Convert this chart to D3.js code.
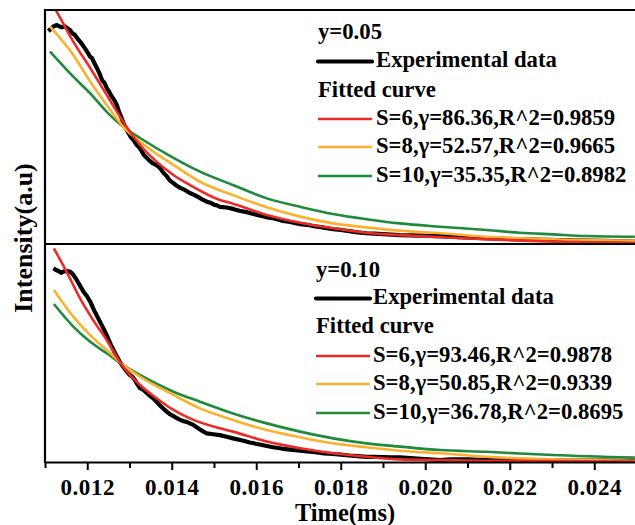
<!DOCTYPE html>
<html><head><meta charset="utf-8">
<script src="https://cdn.jsdelivr.net/npm/d3@7"></script>
<style>
html,body{margin:0;padding:0;background:#fff;}
text{font-family:"Liberation Serif","Times New Roman",serif;font-weight:bold;fill:#000;}
</style></head>
<body><svg id="chart" width="635" height="525"></svg>
<script>
// ---- data (time in ms, normalised intensity per panel) ----
const tickValues = [0.011,0.012,0.013,0.014,0.015,0.016,0.017,0.018,0.019,0.020,0.021,0.022,0.023,0.024,0.025];
const tickLabels = ["","0.012","","0.014","","0.016","","0.018","","0.020","","0.022","","0.024",""];

const panelTitles = ["y=0.05","y=0.10"];
const seriesColors = ["#ec2a26","#fbb12e","#1e8a3a"];
const topFitLabels = ["S=6,\u03b3=86.36,R^2=0.9859","S=8,\u03b3=52.57,R^2=0.9665","S=10,\u03b3=35.35,R^2=0.8982"];
const bottomFitLabels = ["S=6,\u03b3=93.46,R^2=0.9878","S=8,\u03b3=50.85,R^2=0.9339","S=10,\u03b3=36.78,R^2=0.8695"];

const topExp = [[0.01108,0.910],[0.01113,0.918],[0.01120,0.930],[0.01128,0.936],[0.01134,0.930],[0.01140,0.926],[0.01147,0.930],[0.01153,0.922],[0.01159,0.915],[0.01165,0.900],[0.01170,0.895],[0.01177,0.878],[0.01183,0.865],[0.01189,0.850],[0.01195,0.835],[0.01201,0.818],[0.01207,0.800],[0.01211,0.795],[0.01215,0.780],[0.01220,0.762],[0.01225,0.744],[0.01230,0.725],[0.01235,0.700],[0.01241,0.688],[0.01246,0.667],[0.01252,0.650],[0.01258,0.630],[0.01264,0.615],[0.01270,0.594],[0.01275,0.566],[0.01280,0.545],[0.01285,0.520],[0.01289,0.501],[0.01296,0.480],[0.01302,0.460],[0.01309,0.445],[0.01317,0.423],[0.01322,0.415],[0.01328,0.400],[0.01334,0.380],[0.01341,0.368],[0.01348,0.355],[0.01355,0.345],[0.01363,0.338],[0.01372,0.325],[0.01380,0.305],[0.01388,0.290],[0.01395,0.272],[0.01403,0.261],[0.01411,0.250],[0.01420,0.240],[0.01432,0.230],[0.01443,0.218],[0.01453,0.210],[0.01463,0.200],[0.01473,0.190],[0.01483,0.181],[0.01492,0.176],[0.01500,0.168],[0.01507,0.165],[0.01514,0.159],[0.01530,0.156],[0.01545,0.150],[0.01560,0.142],[0.01580,0.135],[0.01600,0.125],[0.01625,0.114],[0.01640,0.110],[0.01660,0.100],[0.01680,0.094],[0.01704,0.085],[0.01720,0.082],[0.01740,0.075],[0.01760,0.070],[0.01782,0.063],[0.01800,0.060],[0.01820,0.055],[0.01840,0.050],[0.01861,0.046],[0.01880,0.044],[0.01900,0.042],[0.01920,0.040],[0.01940,0.038],[0.01990,0.036],[0.02035,0.034],[0.02080,0.029],[0.02120,0.026],[0.02170,0.023],[0.02224,0.020],[0.02290,0.018],[0.02350,0.016],[0.02420,0.013],[0.02496,0.010]];
const topS6 = [[0.01107,1.060],[0.01136,0.966],[0.01167,0.865],[0.01207,0.752],[0.01246,0.637],[0.01285,0.523],[0.01325,0.423],[0.01364,0.352],[0.01404,0.295],[0.01443,0.252],[0.01514,0.188],[0.01545,0.172],[0.01625,0.124],[0.01704,0.091],[0.01782,0.067],[0.01861,0.048],[0.01940,0.038],[0.02035,0.029],[0.02145,0.020],[0.02302,0.010],[0.02496,0.004]];
const topS8 = [[0.01112,0.929],[0.01167,0.808],[0.01207,0.694],[0.01246,0.594],[0.01285,0.501],[0.01325,0.437],[0.01404,0.338],[0.01467,0.266],[0.01545,0.209],[0.01625,0.157],[0.01704,0.117],[0.01782,0.088],[0.01861,0.071],[0.01940,0.057],[0.02035,0.046],[0.02145,0.031],[0.02302,0.020],[0.02496,0.014]];
const topS10 = [[0.01112,0.822],[0.01167,0.715],[0.01207,0.644],[0.01246,0.565],[0.01285,0.501],[0.01325,0.453],[0.01404,0.368],[0.01467,0.309],[0.01545,0.252],[0.01625,0.195],[0.01704,0.159],[0.01782,0.128],[0.01861,0.106],[0.01940,0.088],[0.02035,0.074],[0.02145,0.060],[0.02224,0.048],[0.02302,0.041],[0.02382,0.034],[0.02496,0.031]];

const bottomExp = [[0.01120,0.893],[0.01126,0.885],[0.01132,0.880],[0.01138,0.872],[0.01143,0.877],[0.01150,0.880],[0.01159,0.877],[0.01164,0.870],[0.01168,0.860],[0.01175,0.839],[0.01183,0.812],[0.01191,0.785],[0.01199,0.765],[0.01207,0.739],[0.01216,0.700],[0.01226,0.662],[0.01236,0.625],[0.01246,0.585],[0.01256,0.540],[0.01266,0.501],[0.01276,0.465],[0.01285,0.439],[0.01293,0.418],[0.01301,0.401],[0.01307,0.392],[0.01312,0.380],[0.01318,0.360],[0.01325,0.340],[0.01333,0.332],[0.01340,0.320],[0.01348,0.305],[0.01356,0.294],[0.01363,0.280],[0.01370,0.265],[0.01379,0.248],[0.01388,0.232],[0.01396,0.220],[0.01405,0.210],[0.01412,0.202],[0.01420,0.194],[0.01428,0.188],[0.01435,0.185],[0.01443,0.178],[0.01451,0.171],[0.01459,0.160],[0.01467,0.150],[0.01475,0.140],[0.01483,0.132],[0.01498,0.128],[0.01514,0.124],[0.01530,0.116],[0.01545,0.109],[0.01565,0.100],[0.01585,0.090],[0.01605,0.082],[0.01625,0.074],[0.01640,0.068],[0.01660,0.062],[0.01680,0.057],[0.01704,0.052],[0.01720,0.049],[0.01740,0.045],[0.01760,0.040],[0.01782,0.037],[0.01800,0.034],[0.01820,0.030],[0.01840,0.027],[0.01861,0.024],[0.01880,0.024],[0.01900,0.023],[0.01920,0.022],[0.01940,0.022],[0.01990,0.015],[0.02035,0.009],[0.02060,0.012],[0.02100,0.012],[0.02160,0.008],[0.02224,0.006],[0.02290,0.008],[0.02350,0.007],[0.02420,0.006],[0.02496,0.005]];
const bottomS6 = [[0.01121,0.985],[0.01151,0.877],[0.01183,0.754],[0.01214,0.654],[0.01246,0.562],[0.01282,0.447],[0.01325,0.355],[0.01364,0.294],[0.01404,0.240],[0.01443,0.201],[0.01514,0.155],[0.01545,0.140],[0.01625,0.094],[0.01704,0.063],[0.01782,0.040],[0.01861,0.024],[0.01940,0.012],[0.02145,0.006],[0.02496,0.002]];
const bottomS8 = [[0.01121,0.793],[0.01167,0.670],[0.01207,0.585],[0.01246,0.516],[0.01285,0.447],[0.01325,0.393],[0.01404,0.309],[0.01467,0.247],[0.01545,0.194],[0.01625,0.147],[0.01704,0.114],[0.01782,0.086],[0.01861,0.068],[0.01940,0.052],[0.02035,0.040],[0.02145,0.024],[0.02302,0.012],[0.02496,0.006]];
const bottomS10 = [[0.01121,0.728],[0.01167,0.624],[0.01207,0.554],[0.01246,0.501],[0.01285,0.447],[0.01325,0.401],[0.01404,0.324],[0.01467,0.278],[0.01545,0.224],[0.01625,0.178],[0.01704,0.140],[0.01782,0.109],[0.01861,0.086],[0.01940,0.071],[0.02035,0.055],[0.02145,0.047],[0.02302,0.032],[0.02496,0.020]];

// ---- drawing ----
const svg = d3.select("#chart");
const x = d3.scaleLinear().domain([0.011,0.025]).range([45,636.5]);
const LF = 22.7; // legend font size
const panels = [
  {top:10, bottom:244, exp:topExp, fits:[topS6,topS8,topS10], title:panelTitles[0], labels:topFitLabels,
   lx0:318, lx1:372, tx:376, ty:[39,67,97,125,153,182]},
  {top:245, bottom:462, exp:bottomExp, fits:[bottomS6,bottomS8,bottomS10], title:panelTitles[1], labels:bottomFitLabels,
   lx0:316, lx1:370, tx:373, ty:[277,304,333,362,390,419]}
];

panels.forEach((p,i)=>{
  const y = d3.scaleLinear().domain([0,1]).range([p.bottom,p.top]);
  const cid = "clip"+i;
  svg.append("clipPath").attr("id",cid).append("rect")
    .attr("x",45).attr("y",p.top).attr("width",600).attr("height",p.bottom-p.top);
  const g = svg.append("g").attr("clip-path",`url(#${cid})`);
  const fitLine = d3.line().x(d=>x(d[0])).y(d=>y(d[1])).curve(d3.curveMonotoneX);
  const expLine = d3.line().x(d=>x(d[0])).y(d=>y(d[1])).curve(d3.curveLinear);
  g.append("path").datum(p.exp).attr("d",expLine).attr("fill","none")
    .attr("stroke","#000").attr("stroke-width",4.2).attr("stroke-linejoin","round");
  [2,1,0].forEach(k=>{
    g.append("path").datum(p.fits[k]).attr("d",fitLine).attr("fill","none")
      .attr("stroke",seriesColors[k]).attr("stroke-width",2.6);
  });
  // legend
  const lg = svg.append("g");
  lg.append("text").attr("x",p.lx0).attr("y",p.ty[0]).attr("font-size",LF).text(p.title);
  lg.append("line").attr("x1",p.lx0).attr("x2",p.lx1).attr("y1",p.ty[1]-5.5).attr("y2",p.ty[1]-5.5)
    .attr("stroke","#000").attr("stroke-width",4.2).attr("stroke-linecap","round");
  lg.append("text").attr("x",p.tx).attr("y",p.ty[1]).attr("font-size",LF).text("Experimental data");
  lg.append("text").attr("x",p.lx0).attr("y",p.ty[2]).attr("font-size",LF).text("Fitted curve");
  p.labels.forEach((lab,k)=>{
    lg.append("line").attr("x1",p.lx0).attr("x2",p.lx1).attr("y1",p.ty[3+k]-6).attr("y2",p.ty[3+k]-6)
      .attr("stroke",seriesColors[k]).attr("stroke-width",2.6);
    lg.append("text").attr("x",p.tx).attr("y",p.ty[3+k]).attr("font-size",LF).text(lab);
  });
});

// frame lines
const frame = svg.append("g").attr("stroke","#000").attr("stroke-width",2.2);
frame.append("line").attr("x1",45).attr("x2",640).attr("y1",10).attr("y2",10);
frame.append("line").attr("x1",45).attr("x2",640).attr("y1",244).attr("y2",244);
frame.append("line").attr("x1",45).attr("x2",45).attr("y1",9).attr("y2",463);

// bottom axis
const axis = d3.axisBottom(x).tickValues(tickValues).tickFormat((d,i)=>tickLabels[i]).tickSizeOuter(0);
const ag = svg.append("g").attr("transform","translate(0,462)").call(axis);
ag.select(".domain").attr("stroke","#000").attr("stroke-width",2.2);
ag.selectAll(".tick line").attr("stroke","#000").attr("stroke-width",2)
  .attr("y2",(d,i)=>tickLabels[i]?8:6);
ag.selectAll(".tick text").attr("font-size",23).attr("font-family","Liberation Serif")
  .attr("font-weight","bold").attr("letter-spacing","0.6px").attr("y",33).attr("dy",0);

// axis titles
svg.append("text").attr("x",345).attr("y",521).attr("text-anchor","middle").attr("font-size",24.5).text("Time(ms)");
svg.append("text").attr("transform","translate(32,238) rotate(-90)").attr("text-anchor","middle")
  .attr("font-size",26).text("Intensity(a.u)");
</script></body></html>
